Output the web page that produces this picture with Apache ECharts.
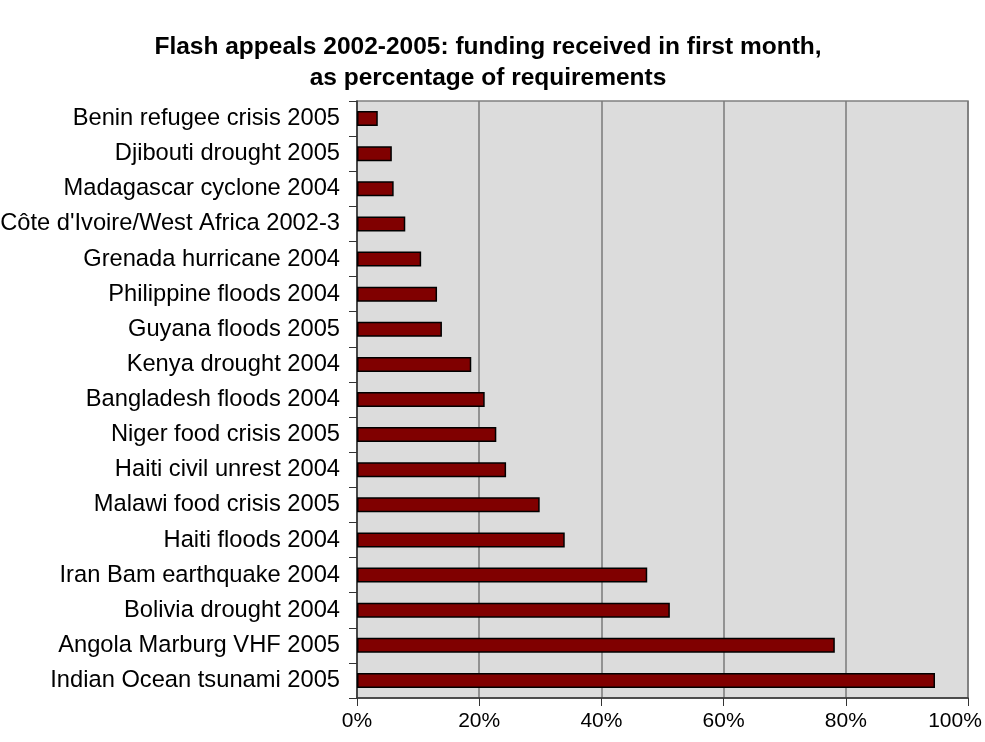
<!DOCTYPE html>
<html>
<head>
<meta charset="utf-8">
<script src="https://cdn.jsdelivr.net/npm/echarts@6/dist/echarts.min.js"></script>
<style>
  html, body { margin: 0; padding: 0; background: #fff; }
  #chart { width: 985px; height: 742px; }
</style>
</head>
<body>
<div id="chart"></div>
<script>
// appeals, top to bottom as in the picture
var appeals = [
    'Benin refugee crisis 2005',
    'Djibouti drought 2005',
    'Madagascar cyclone 2004',
    'Côte d\'Ivoire/West Africa 2002-3',
    'Grenada hurricane 2004',
    'Philippine floods 2004',
    'Guyana floods 2005',
    'Kenya drought 2004',
    'Bangladesh floods 2004',
    'Niger food crisis 2005',
    'Haiti civil unrest 2004',
    'Malawi food crisis 2005',
    'Haiti floods 2004',
    'Iran Bam earthquake 2004',
    'Bolivia drought 2004',
    'Angola Marburg VHF 2005',
    'Indian Ocean tsunami 2005'
];
// % of requirements funded in first month
var fundedPct = [3.4, 5.7, 6.0, 7.9, 10.5, 13.1, 13.9, 18.7, 20.9, 22.8, 24.4, 29.9, 34.0, 47.5, 51.2, 78.2, 94.6];
var xTicks = [0, 20, 40, 60, 80, 100];

var font = 'Liberation Sans, Arial, sans-serif';
var myChart = echarts.init(document.getElementById('chart'));
var option = {
    backgroundColor: '#ffffff',
    animation: false,
    title: {
        text: 'Flash appeals 2002-2005: funding received in first month,\nas percentage of requirements',
        left: 483,
        top: 27,
        textAlign: 'center',
        textStyle: {
            fontFamily: font,
            fontSize: 24.5,
            fontWeight: 'bold',
            color: '#000',
            lineHeight: 31
        }
    },
    grid: {
        left: 357,
        right: 17,
        top: 101,
        bottom: 44,
        outerBoundsMode: 'none',
        show: true,
        backgroundColor: '#dcdcdc',
        borderColor: '#808080',
        borderWidth: 1.5
    },
    xAxis: {
        type: 'value',
        min: xTicks[0],
        max: xTicks[xTicks.length - 1],
        interval: 20,
        axisLine: { show: true, lineStyle: { color: '#333', width: 1.5 } },
        axisTick: { show: true, length: 8, lineStyle: { color: '#333' } },
        axisLabel: {
            margin: 13,
            fontFamily: font,
            fontSize: 21,
            color: '#000',
            // last label sits a bit left of its tick so it stays on the page
            formatter: function (v) {
                return v === xTicks[xTicks.length - 1] ? '{last|' + v + '%}' : v + '%';
            },
            rich: {
                last: { fontFamily: font, fontSize: 21, color: '#000', padding: [0, 26, 0, 0] }
            }
        },
        splitLine: { show: true, lineStyle: { color: '#7a7a7a', width: 1.5 } }
    },
    yAxis: {
        type: 'category',
        inverse: true,
        data: appeals,
        axisLine: { show: true, lineStyle: { color: '#333', width: 1.5 } },
        axisTick: { show: true, length: 8, lineStyle: { color: '#333' } },
        axisLabel: {
            margin: 17,
            fontFamily: font,
            fontSize: 23.7,
            color: '#000'
        },
        splitLine: { show: false }
    },
    series: [{
        type: 'bar',
        data: fundedPct,
        barWidth: 15,
        itemStyle: {
            color: '#800000',
            borderColor: '#000',
            borderWidth: 1.5
        }
    }]
};
myChart.setOption(option);
</script>
</body>
</html>
